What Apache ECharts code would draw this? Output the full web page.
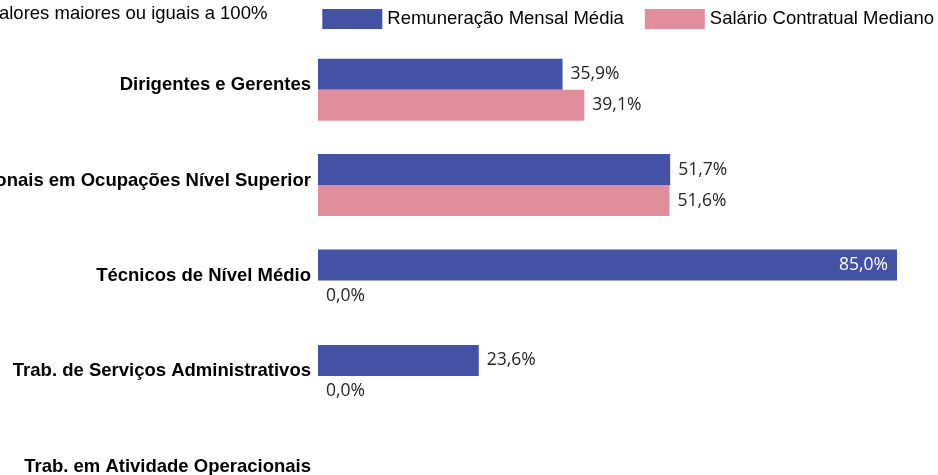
<html>
<head>
	<meta charset="utf-8">
</head>
<body style="margin:0">
	<div id="main" style="width: 938px; height: 475px;"></div>
	<script src="https://cdn.jsdelivr.net/npm/echarts@6/dist/echarts.min.js"></script>
	<script>
		// categorias (de cima para baixo)
		var categorias = [
			'Dirigentes e Gerentes',
			'Profissionais em Ocupações Nível Superior',
			'Técnicos de Nível Médio',
			'Trab. de Serviços Administrativos',
			'Trab. em Atividade Operacionais'
		];
		var nomesSeries = ['Remuneração Mensal Média', 'Salário Contratual Mediano'];
		// valores >= 100% nao sao exibidos -> null
		var remuneracao = [35.9, 51.7, 85.0, 23.6, null];
		var salario = [39.1, 51.6, 0.0, 0.0, null];
		var nota = 'Valores maiores ou iguais a 100%';

		var cores = ['#4352A5', '#E08E9C'];
		var fonte = 'Liberation Sans, Arial, sans-serif';

		function fmt(p) {
			return p.value.toFixed(1).replace('.', ',') + '%';
		}

		var myChart = echarts.init(document.getElementById('main'), null, { renderer: 'canvas' });

		var rotulo = {
			show: true,
			position: 'right',
			distance: 8,
			formatter: fmt,
			fontFamily: 'Open Sans',
			fontSize: 17.5,
			color: '#262626'
		};

		var option = {
			animation: false,
			title: {
				text: nota,
				left: -12,
				top: 4,
				padding: 0,
				textStyle: { fontFamily: fonte, fontSize: 18.5, fontWeight: 'normal', color: '#000' }
			},
			legend: {
				data: nomesSeries,
				right: 4,
				top: 9,
				padding: 0,
				icon: 'rect',
				itemWidth: 60,
				itemHeight: 20,
				itemGap: 21,
				textStyle: { fontFamily: fonte, fontSize: 18.5, color: '#000' }
			},
			grid: {
				left: 318,
				right: 41,
				top: 42,
				height: 477,
				containLabel: false,
				outerBoundsMode: 'none'
			},
			xAxis: {
				type: 'value',
				min: 0,
				max: 85,
				show: false
			},
			yAxis: {
				type: 'category',
				inverse: true,
				data: categorias,
				axisLine: { show: false },
				axisTick: { show: false },
				splitLine: { show: false },
				axisLabel: {
					margin: 7,
					formatter: function (v) { return '{c|' + v + '}'; },
					rich: {
						c: {
							fontFamily: fonte,
							fontSize: 18.5,
							fontWeight: 'bold',
							color: '#000',
							padding: [0, 0, 9, 0]
						}
					}
				}
			},
			series: [
				{
					name: nomesSeries[0],
					type: 'bar',
					data: remuneracao,
					barWidth: 31,
					barGap: '0%',
					itemStyle: { color: cores[0] },
					label: rotulo
				},
				{
					name: nomesSeries[1],
					type: 'bar',
					data: salario,
					barWidth: 31,
					itemStyle: { color: cores[1] },
					label: rotulo
				}
			]
		};

		// rotulo do maior valor fica dentro da barra
		var maxIdx = remuneracao.indexOf(85.0);
		option.series[0].data = remuneracao.map(function (v, i) {
			if (i === maxIdx) {
				return {
					value: v,
					label: { position: 'insideRight', distance: 9, color: '#fff' }
				};
			}
			return v;
		});

		myChart.setOption(option);
	</script>
</body>
</html>
